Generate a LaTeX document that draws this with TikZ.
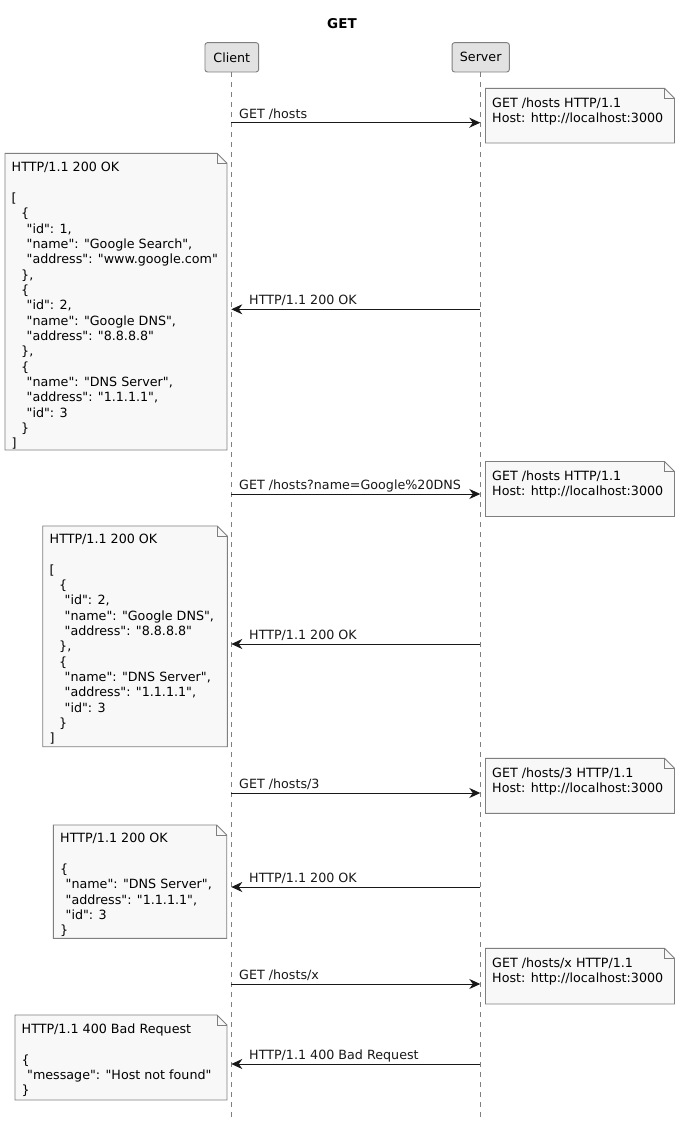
\documentclass[tikz,border=0pt]{standalone}
\usepackage{fontspec}
\setmainfont{DejaVu Sans}[Ligatures=TeXOff]
\newfontfamily\titlefont{DejaVu Sans Bold}[Ligatures=TeXOff]
\usetikzlibrary{arrows.meta}

\definecolor{notefill}{HTML}{F8F8F8}
\definecolor{noteline}{HTML}{7F7F7F}
\definecolor{partfill}{HTML}{E2E2E2}
\definecolor{partline}{HTML}{7F7F7F}
\definecolor{lifeline}{HTML}{7F7F7F}
\definecolor{ink}{HTML}{181818}

% text helpers
\newcommand\notefont{\fontsize{12.7}{15.33}\selectfont}
\newcommand\lstrut{\rule[-3.9pt]{0pt}{15.33pt}}
\newcommand\blankline{\mbox{}}
\newcommand\indA{\hspace*{9.5pt}}
\newcommand\indB{\hspace*{15pt}}
\newcommand\indC{\hspace*{5.5pt}}

% folded-corner note outline: x1,y1,x2,y2
\newcommand\noteoutline[4]{%
  \draw[noteshape] (#1,#2) -- (#3-10,#2) -- (#3,#2+10) -- (#3,#4) -- (#1,#4) -- cycle;
  \draw[noteshape,fill=none] (#3-10,#2) -- (#3-10,#2+10) -- (#3,#2+10);
}

\tikzset{
  noteshape/.style={draw=noteline, fill=notefill, line width=0.9pt, line join=miter},
  notetext/.style={anchor=north west, inner sep=0pt, align=left, font=\notefont,
    execute at begin node=\lstrut},
  participant/.style={draw=partline, fill=partfill, line width=0.9pt, rounded corners=2.5pt,
    minimum height=29.3pt, inner sep=0pt, font=\notefont},
  life/.style={draw=lifeline, line width=0.9pt, dash pattern=on 5pt off 5pt},
  msg/.style={draw=ink, line width=1pt,
    -{Stealth[length=11pt,width=10pt,inset=3.5pt]}},
  msglabel/.style={anchor=base west, inner sep=0pt, font=\notefont, text=ink},
}

\begin{document}
\begin{tikzpicture}[x=1pt,y=-1pt]
  \useasboundingbox[fill=white] (0,0) rectangle (681,1122);

  % title
  \node[font=\titlefont\fontsize{13.5}{16}\selectfont, anchor=base] (title) at (342,28) {GET};

  % participants and their lifelines
  \coordinate (cbot) at (231.3,1118);
  \coordinate (sbot) at (480.3,1118);
  \draw[life] (231.3,72) -- (cbot);
  \draw[life] (480.3,72) -- (sbot);
  \node[participant, minimum width=53.7pt] (client) at (231.8,57.3) {Client};
  \node[participant, minimum width=57.3pt] (server) at (480.7,57.3) {Server};

  % message anchors on the lifelines
  \foreach \i/\y in {1/122.7,2/309.3,3/494,4/644,5/793,6/887,7/984,8/1064}{
    \coordinate (c\i) at (231.3,\y);
    \coordinate (s\i) at (480.3,\y);
  }

  % 1: GET /hosts
  \draw[msg] (c1) -- (s1);
  \node[msglabel] (m1) at (239,118.2) {GET /hosts};
  \noteoutline{485.5}{88.3}{674.5}{143}
  \node[notetext] (r1) at (492,88.3+9.3) {GET /hosts HTTP/1.1\\Host: http://localhost:3000};

  % 2: response with all hosts
  \draw[msg] (s2) -- (c2);
  \node[msglabel] (m2) at (249,304.3) {HTTP/1.1 200 OK};
  \noteoutline{5}{153.3}{227}{450}
  \node[notetext] (a1) at (11.5,153.3+8.8) {HTTP/1.1 200 OK\\ \blankline\\ {[}\\
    \indA\{\\
    \indB"id": 1,\\
    \indB"name": "Google Search",\\
    \indB"address": "www.google.com"\\
    \indA\},\\
    \indA\{\\
    \indB"id": 2,\\
    \indB"name": "Google DNS",\\
    \indB"address": "8.8.8.8"\\
    \indA\},\\
    \indA\{\\
    \indB"name": "DNS Server",\\
    \indB"address": "1.1.1.1",\\
    \indB"id": 3\\
    \indA\}\\
    {]}};

  % 3: GET with a name filter
  \draw[msg] (c3) -- (s3);
  \node[msglabel] (m3) at (239,489.5) {GET /hosts?name=Google\%20DNS};
  \noteoutline{485.5}{461.5}{674.5}{516.5}
  \node[notetext] (r2) at (492,461.5+9.3) {GET /hosts HTTP/1.1\\Host: http://localhost:3000};

  % 4: filtered response
  \draw[msg] (s4) -- (c4);
  \node[msglabel] (m4) at (249,639) {HTTP/1.1 200 OK};
  \noteoutline{42.7}{526}{227.3}{746.7}
  \node[notetext] (a2) at (49.5,526+8) {HTTP/1.1 200 OK\\ \blankline\\ {[}\\
    \indA\{\\
    \indB"id": 2,\\
    \indB"name": "Google DNS",\\
    \indB"address": "8.8.8.8"\\
    \indA\},\\
    \indA\{\\
    \indB"name": "DNS Server",\\
    \indB"address": "1.1.1.1",\\
    \indB"id": 3\\
    \indA\}\\
    {]}};

  % 5: GET /hosts/3
  \draw[msg] (c5) -- (s5);
  \node[msglabel] (m5) at (239,788.5) {GET /hosts/3};
  \noteoutline{485.5}{758.3}{674.5}{813.3}
  \node[notetext] (r3) at (492,758.3+9.3) {GET /hosts/3 HTTP/1.1\\Host: http://localhost:3000};

  % 6: single host
  \draw[msg] (s6) -- (c6);
  \node[msglabel] (m6) at (249,882) {HTTP/1.1 200 OK};
  \noteoutline{53.3}{825}{226.7}{938.3}
  \node[notetext] (a3) at (60,825+8.3) {HTTP/1.1 200 OK\\ \blankline\\ \{\\
    \indC"name": "DNS Server",\\
    \indC"address": "1.1.1.1",\\
    \indC"id": 3\\
    \}};

  % 7: GET /hosts/x
  \draw[msg] (c7) -- (s7);
  \node[msglabel] (m7) at (239,979.5) {GET /hosts/x};
  \noteoutline{485.5}{948.3}{674.5}{1004}
  \node[notetext] (r4) at (492,948.3+9.3) {GET /hosts/x HTTP/1.1\\Host: http://localhost:3000};

  % 8: bad request
  \draw[msg] (s8) -- (c8);
  \node[msglabel] (m8) at (249,1059) {HTTP/1.1 400 Bad Request};
  \noteoutline{15}{1015}{227}{1100}
  \node[notetext] (a4) at (21.5,1015+8.8) {HTTP/1.1 400 Bad Request\\ \blankline\\ \{\\
    \indC"message": "Host not found"\\
    \}};
\end{tikzpicture}
\end{document}
